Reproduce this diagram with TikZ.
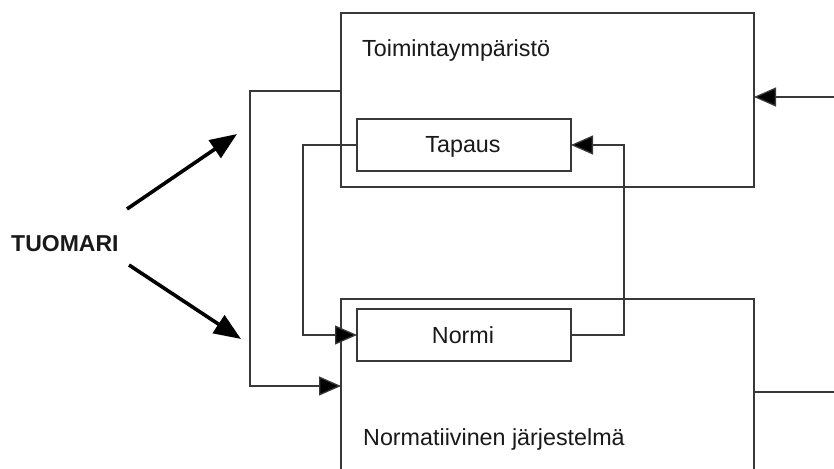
\documentclass[tikz,border=0pt]{standalone}
\usepackage{fontspec}
\setmainfont{Liberation Sans}
\usetikzlibrary{arrows.meta}
\begin{document}
\begin{tikzpicture}[x=1pt,y=-1pt,
  frame/.style={draw=black!78,line width=1.3pt,rectangle,inner sep=0pt,outer sep=0pt},
  label/.style={font=\fontsize{23.3}{27}\selectfont,inner sep=0pt,text=black!90},
  link/.style={draw=black!78,line width=1.3pt,-{Triangle[length=22pt,width=19pt,fill=black]}},
  plainlink/.style={draw=black!78,line width=1.3pt},
  bold/.style={line width=3.6pt,-{Triangle[length=27pt,width=21pt]}}]
\clip (0,0) rectangle (834,468);
\fill[white] (0,0) rectangle (834,468);

% the two large areas
\node[frame,minimum width=413pt,minimum height=174pt] (env) at (547.5,100) {};
\node[frame,minimum width=413pt,minimum height=190pt,anchor=north west] (sys) at (341,299) {};
\node[label,anchor=base west] (envtitle) at (362,57) {Toimintaympäristö};
\node[label,anchor=base west] (systitle) at (363,445) {Normatiivinen järjestelmä};

% inner boxes
\node[frame,fill=white,minimum width=214pt,minimum height=52pt] (tapaus) at (464,145) {};
\node[label,anchor=base] at (463,152) {Tapaus};
\node[frame,fill=white,minimum width=214pt,minimum height=52pt] (normi) at (464,335) {};
\node[label,anchor=base] at (463,343) {Normi};

% the judge
\node[label,font=\bfseries\fontsize{23}{27}\selectfont,anchor=base west] (tuomari) at (11,251) {TUOMARI};
\coordinate (upstart) at (127,209);
\coordinate (upend) at (237,134);
\coordinate (downstart) at (129,265);
\coordinate (downend) at (241,339);
\draw[bold] (upstart) -- (upend);
\draw[bold] (downstart) -- (downend);

% feedback loops between case and norm
\draw[link] (tapaus.west) -- ++(-54,0) |- (normi.west);
\draw[link] (normi.east) -- ++(53,0) |- (tapaus.east);

% environment feeds the normative system
\coordinate (envout) at (341,91);
\coordinate (sysin) at (341,386);
\draw[link] (envout) -- (250,91) |- (sysin);

% outside connections on the right
\coordinate (rightin) at (834,97);
\coordinate (rightout) at (834,392);
\draw[link] (rightin) -- (env.east |- rightin);
\draw[plainlink] (sys.east |- rightout) -- (rightout);
\end{tikzpicture}
\end{document}
